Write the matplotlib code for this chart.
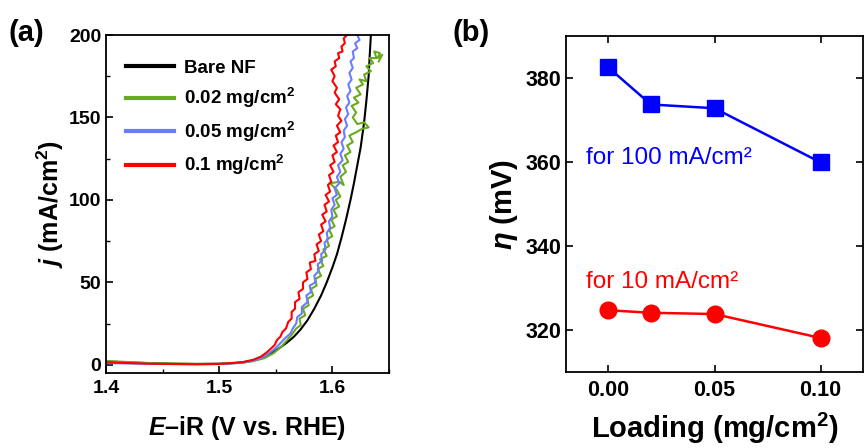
import matplotlib
matplotlib.use("Agg")
import matplotlib.pyplot as plt
from matplotlib.ticker import AutoMinorLocator, MultipleLocator

plt.rcParams['font.family'] = ['Liberation Sans', 'DejaVu Sans']
plt.rcParams['mathtext.fontset'] = 'custom'
plt.rcParams['mathtext.rm'] = 'Liberation Sans:bold'
plt.rcParams['mathtext.it'] = 'Liberation Sans:italic:bold'
plt.rcParams['mathtext.bf'] = 'Liberation Sans:bold'

# ---------------- Panel (a) data: LSV curves (E in V vs RHE, j in mA/cm2) ----------------
E_bare = [1.400, 1.420, 1.440, 1.460, 1.480, 1.500, 1.510, 1.520, 1.530, 1.536, 1.542, 1.548,
          1.554, 1.560, 1.566, 1.572, 1.578, 1.584, 1.590, 1.595, 1.600, 1.604, 1.608, 1.612,
          1.616, 1.619, 1.622, 1.625, 1.628, 1.630, 1.632, 1.633, 1.634]
j_bare = [2.0, 1.4, 0.9, 0.6, 0.5, 0.6, 0.9, 1.4, 2.6, 3.6, 5.5, 7.8,
          10.5, 13.5, 17, 21.5, 27, 34, 42, 50, 59, 67, 77, 88,
          100, 110, 121, 132, 147, 160, 175, 188, 200]

E_002 = [1.400, 1.440, 1.480, 1.500, 1.520, 1.530, 1.540, 1.548, 1.555, 1.560, 1.565, 1.568,
         1.572, 1.571, 1.576, 1.574, 1.579, 1.578, 1.583, 1.581, 1.586, 1.585, 1.590, 1.587,
         1.592, 1.589, 1.595, 1.592, 1.597, 1.595, 1.600, 1.597, 1.602, 1.599, 1.604, 1.601,
         1.606, 1.603, 1.607, 1.604, 1.598, 1.606, 1.610, 1.607, 1.612, 1.609, 1.614, 1.611,
         1.616, 1.613, 1.618, 1.615, 1.621, 1.626, 1.632, 1.628, 1.622, 1.618, 1.621, 1.617,
         1.623, 1.619, 1.625, 1.621, 1.627, 1.624, 1.630, 1.628, 1.634, 1.630, 1.636, 1.633,
         1.639, 1.637, 1.642, 1.640, 1.644, 1.641]
j_002 = [2.3, 1.0, 0.5, 0.6, 1.2, 2.2, 4.0, 7, 11, 15, 19, 22,
         24, 28, 30, 34, 36, 40, 42, 46, 48, 52, 54, 58,
         60, 64, 66, 70, 72, 76, 78, 82, 84, 88, 90, 94,
         96, 100, 102, 106, 110, 111, 109, 114, 117, 121, 123, 127,
         129, 133, 135, 139, 141, 143, 144, 147, 146, 150, 153, 157,
         159, 162, 164, 168, 170, 173, 172, 176, 178, 181, 183, 186,
         186, 190, 189, 186, 188, 184]

E_005 = [1.400, 1.440, 1.480, 1.500, 1.520, 1.530, 1.536, 1.542, 1.548, 1.554, 1.558, 1.563,
         1.565, 1.568, 1.569, 1.573, 1.573, 1.578, 1.577, 1.581, 1.580, 1.585, 1.584, 1.588,
         1.587, 1.591, 1.590, 1.594, 1.593, 1.596, 1.595, 1.598, 1.597, 1.600, 1.599, 1.602,
         1.600, 1.604, 1.602, 1.606, 1.604, 1.607, 1.605, 1.609, 1.607, 1.610, 1.608, 1.611,
         1.610, 1.613, 1.611, 1.614, 1.612, 1.615, 1.613, 1.616, 1.614, 1.617, 1.615, 1.618,
         1.616, 1.619, 1.618, 1.622, 1.620, 1.624, 1.622, 1.626]
j_005 = [1.0, 0.5, 0.3, 0.4, 1.2, 2.4, 3.8, 6, 9, 13, 16, 19,
         22, 25, 29, 31, 35, 38, 42, 44, 48, 50, 54, 57,
         61, 63, 67, 70, 74, 76, 80, 83, 87, 90, 94, 97,
         101, 103, 107, 110, 114, 117, 121, 124, 128, 131, 135, 138,
         142, 145, 149, 152, 156, 159, 163, 166, 170, 173, 177, 180,
         184, 186, 190, 192, 195, 197, 200, 201]

E_01 = [1.400, 1.440, 1.480, 1.500, 1.520, 1.530, 1.537, 1.542, 1.546, 1.549, 1.551, 1.554,
        1.556, 1.559, 1.561, 1.564, 1.564, 1.567, 1.567, 1.571, 1.570, 1.574, 1.574, 1.578,
        1.577, 1.581, 1.580, 1.585, 1.584, 1.588, 1.586, 1.590, 1.588, 1.592, 1.590, 1.594,
        1.591, 1.595, 1.593, 1.597, 1.594, 1.598, 1.596, 1.599, 1.597, 1.601, 1.598, 1.602,
        1.600, 1.604, 1.601, 1.605, 1.603, 1.607, 1.604, 1.608, 1.605, 1.607, 1.603, 1.606,
        1.602, 1.604, 1.600, 1.602, 1.599, 1.603, 1.602, 1.606, 1.605, 1.609, 1.608, 1.611,
        1.610, 1.613, 1.615]
j_01 = [1.5, 0.6, 0.3, 0.5, 1.5, 3.0, 5, 7.5, 10, 12, 15, 17,
        20, 22, 26, 28, 32, 34, 38, 40, 44, 46, 50, 52,
        56, 58, 62, 63, 67, 69, 73, 75, 79, 81, 85, 87,
        91, 93, 97, 99, 103, 105, 109, 111, 115, 117, 121, 123,
        127, 129, 133, 135, 139, 141, 145, 148, 151, 155, 158, 161,
        165, 168, 172, 175, 179, 181, 184, 186, 189, 190, 193, 195,
        198, 200, 201]

curve_labels = ['Bare NF', '0.02 mg/cm$^2$', '0.05 mg/cm$^2$', '0.1 mg/cm$^2$']
curve_colors = ['#000000', '#6aaa1e', '#6b7cff', '#ff0000']

# ---------------- Panel (b) data ----------------
loading = [0.00, 0.02, 0.05, 0.10]
eta_100 = [382.5, 373.7, 372.8, 359.9]
eta_10 = [324.7, 324.1, 323.8, 318.1]

W, H = 865, 448
fig = plt.figure(figsize=(W / 100, H / 100), dpi=100)

# ---------- (a) ----------
axa = fig.add_axes([106 / W, 1 - 373 / H, (389 - 106) / W, (373 - 35) / H])
series = [(E_bare, j_bare), (E_002, j_002), (E_005, j_005), (E_01, j_01)]
for (ex, jy), lab, col in zip(series, curve_labels, curve_colors):
    axa.plot(ex, jy, color=col, lw=1.5, label=lab)
axa.set_xlim(1.4, 1.65)
axa.set_ylim(-5, 200)
axa.yaxis.set_major_locator(MultipleLocator(50))
axa.set_xticks([1.4, 1.5, 1.6])
axa.set_xticklabels(['1.4', '1.5', '1.6'])
axa.xaxis.set_minor_locator(AutoMinorLocator(2))
axa.yaxis.set_minor_locator(AutoMinorLocator(2))
axa.tick_params(which='both', direction='in', labelsize=14)
axa.tick_params(which='major', length=5, width=1.2)
axa.tick_params(which='minor', length=3, width=1.0)
axa.tick_params(axis='x', pad=5)
for lab in axa.get_xticklabels() + axa.get_yticklabels():
    lab.set_fontweight('bold')
for s in axa.spines.values():
    s.set_linewidth(1.3)
axa.set_xlabel(r'$E$–iR (V vs. RHE)', fontsize=18, fontweight='bold', labelpad=12)
axa.set_ylabel(r'$j$ (mA/cm$^2$)', fontsize=18, fontweight='bold', labelpad=2)
leg = axa.legend(loc='upper left', bbox_to_anchor=(0.03, 0.96), frameon=False,
                 prop={'weight': 'bold', 'size': 13.5}, handlelength=2.6,
                 handletextpad=0.5, labelspacing=0.5, borderaxespad=0.2)
for h in leg.get_lines():
    h.set_linewidth(3)

# ---------- (b) ----------
axb = fig.add_axes([566 / W, 1 - 372 / H, (863 - 566) / W, (372 - 36) / H])
axb.plot(loading, eta_100, color='#0000ff', lw=1.8, marker='s', ms=11)
axb.plot(loading, eta_10, color='#ff0000', lw=1.8, marker='o', ms=12)
axb.set_xlim(-0.02, 0.12)
axb.set_ylim(310, 390)
axb.set_xticks([0.00, 0.05, 0.10])
axb.set_xticklabels(['0.00', '0.05', '0.10'])
axb.set_yticks([320, 340, 360, 380])
axb.tick_params(which='both', direction='in', labelsize=15.5, top=True, right=True,
                length=5, width=1.2)
axb.tick_params(axis='x', pad=6)
for lab in axb.get_xticklabels() + axb.get_yticklabels():
    lab.set_fontweight('bold')
for s in axb.spines.values():
    s.set_linewidth(1.3)
axb.set_xlabel('Loading (mg/cm$^2$)', fontsize=21, fontweight='bold', labelpad=7)
axb.set_ylabel(r'$\eta$ (mV)', fontsize=21, fontweight='bold', labelpad=4)
axb.text(-0.0108, 361, 'for 100 mA/cm²', color='#0000ff', fontsize=17.5, va='center', ha='left')
axb.text(-0.0108, 331.4, 'for 10 mA/cm²', color='#ff0000', fontsize=17.5, va='center', ha='left')

fig.text(8 / W, 1 - 33 / H, '(a)', fontsize=21, fontweight='bold', va='center', ha='left')
fig.text(453 / W, 1 - 33 / H, '(b)', fontsize=21, fontweight='bold', va='center', ha='left')

fig.savefig('out.png', dpi=100)
